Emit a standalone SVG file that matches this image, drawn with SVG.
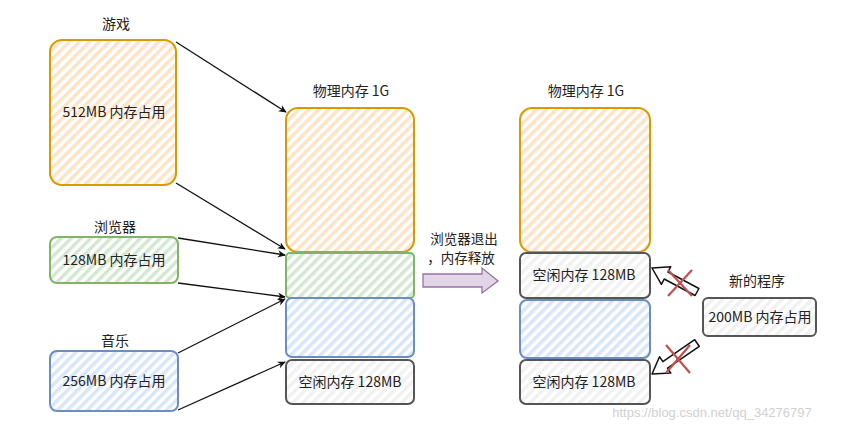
<svg xmlns="http://www.w3.org/2000/svg" width="844" height="431" viewBox="0 0 844 431">
<defs>
<style>
text{font-family:"Noto Sans CJK SC","Liberation Sans",sans-serif;font-size:14px;fill:#222;text-anchor:middle}
.box{stroke-width:2}
.o{fill:url(#hO);stroke:#d79b00}
.g{fill:url(#hG);stroke:#82b366}
.b{fill:url(#hB);stroke:#6c8ebf}
.w{fill:url(#hW);stroke:#555}
.c{stroke:#111;stroke-width:1.3;fill:none}
.hol{fill:#fff;stroke:#111;stroke-width:1.5;stroke-linejoin:round}
.x{stroke:#c0504d;stroke-width:2.2}
</style>
<pattern id="hO" width="7" height="7" patternUnits="userSpaceOnUse" patternTransform="rotate(45)"><rect width="7" height="7" fill="#fff"/><rect width="3.5" height="7" fill="#ffe3c6"/></pattern>
<pattern id="hG" width="7" height="7" patternUnits="userSpaceOnUse" patternTransform="rotate(45)"><rect width="7" height="7" fill="#fff"/><rect width="3.5" height="7" fill="#d3e8d1"/></pattern>
<pattern id="hB" width="7" height="7" patternUnits="userSpaceOnUse" patternTransform="rotate(45)"><rect width="7" height="7" fill="#fff"/><rect width="3.5" height="7" fill="#d7e6fb"/></pattern>
<pattern id="hW" width="7" height="7" patternUnits="userSpaceOnUse" patternTransform="rotate(45)"><rect width="7" height="7" fill="#fff"/><rect width="3.5" height="7" fill="#f1f1f1"/></pattern>
<marker id="ar" viewBox="0 0 10 10" refX="9" refY="5" markerWidth="8" markerHeight="8" orient="auto" markerUnits="userSpaceOnUse"><path d="M0,0.5 L10,5 L0,9.5 L3,5 Z" fill="#111"/></marker>
</defs>
<rect width="844" height="431" fill="#fff"/>

<g id="game">
<rect class="box o" x="50" y="40" width="126" height="145" rx="12"/>
<text x="116" y="29">游戏</text>
<text x="114" y="117">512MB 内存占用</text>
</g>
<g id="browser">
<rect class="box g" x="50" y="237" width="128" height="46" rx="7"/>
<text x="115" y="232">浏览器</text>
<text x="114" y="265">128MB 内存占用</text>
</g>
<g id="music">
<rect class="box b" x="50" y="351" width="128" height="60" rx="7"/>
<text x="115" y="346">音乐</text>
<text x="114" y="386">256MB 内存占用</text>
</g>

<g id="mem1">
<text x="351" y="96">物理内存 1G</text>
<rect class="box o" x="286" y="108" width="128" height="144" rx="12"/>
<rect class="box g" x="286" y="253" width="128" height="45" rx="4"/>
<rect class="box b" x="286" y="298" width="128" height="59" rx="6"/>
<rect class="box w" x="286" y="360" width="128" height="44" rx="6"/>
<text x="350" y="387">空闲内存 128MB</text>
</g>

<g id="release">
<text x="464" y="244" style="font-size:13.5px">浏览器退出</text>
<text x="461" y="263" style="font-size:13.5px">，内存释放</text>
<path d="M423,274 H482 V268 L498,281 L482,293 V287 H423 Z" fill="#e1d5e7" stroke="#9673a6" stroke-width="1.3"/>
</g>

<g id="mem2">
<text x="586" y="96">物理内存 1G</text>
<rect class="box o" x="520" y="108" width="130" height="144" rx="12"/>
<rect class="box w" x="520" y="253" width="130" height="45" rx="6"/>
<text x="584" y="280">空闲内存 128MB</text>
<rect class="box b" x="520" y="300" width="130" height="58" rx="7"/>
<rect class="box w" x="520" y="360" width="130" height="44" rx="6"/>
<text x="584" y="387">空闲内存 128MB</text>
</g>

<g id="newprog">
<text x="757" y="286">新的程序</text>
<rect class="box w" x="703" y="298" width="113" height="38" rx="5"/>
<text x="760" y="322">200MB 内存占用</text>
</g>

<g id="connectors">
<line class="c" x1="176" y1="42" x2="286" y2="112" marker-end="url(#ar)"/>
<line class="c" x1="176" y1="183" x2="285" y2="249" marker-end="url(#ar)"/>
<line class="c" x1="178" y1="238" x2="285" y2="255" marker-end="url(#ar)"/>
<line class="c" x1="178" y1="283" x2="285" y2="297" marker-end="url(#ar)"/>
<line class="c" x1="178" y1="353" x2="285" y2="299" marker-end="url(#ar)"/>
<line class="c" x1="178" y1="410" x2="285" y2="362" marker-end="url(#ar)"/>
<path class="hol" d="M652,268 L670.8,266.7 L668,272 L698.9,288.5 L695.1,295.5 L664.2,279 L661.4,284.3 Z"/>
<path class="hol" d="M652,374 L659.5,356.7 L662.9,361.6 L694.7,339.7 L699.3,346.3 L667.5,368.2 L670.9,373.1 Z"/>
<line class="x" x1="668" y1="270" x2="692" y2="296"/>
<line class="x" x1="692" y1="270" x2="668" y2="296"/>
<line class="x" x1="666" y1="345" x2="690" y2="373"/>
<line class="x" x1="690" y1="345" x2="666" y2="373"/>
</g>

<text x="712" y="417" style="fill:#d0d0d0;font-size:13px;font-family:'Liberation Sans',sans-serif">https://blog.csdn.net/qq_34276797</text>
</svg>
